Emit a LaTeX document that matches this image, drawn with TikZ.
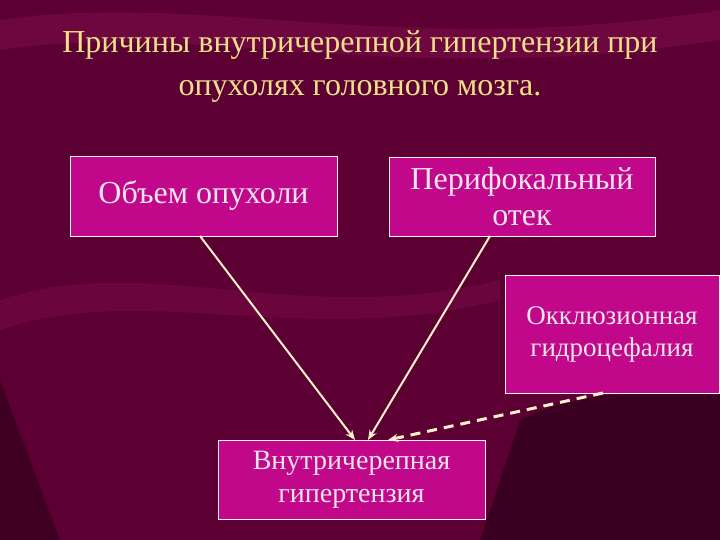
\documentclass[tikz,border=0pt]{standalone}
\usepackage{fontspec}
\setmainfont{Liberation Serif}
\usetikzlibrary{arrows.meta}
\begin{document}
\begin{tikzpicture}[x=1pt,y=-1pt,
  box/.style={draw=white!85!pink,line width=0.8pt,fill=boxc,inner sep=0pt,align=center,text=txt},
  arr/.style={draw=arrc,line width=2pt,-{Stealth[length=10pt,width=8pt]}}]
\definecolor{bg}{HTML}{5C0034}
\definecolor{bgl}{HTML}{7A0A48}
\definecolor{boxc}{HTML}{C2088A}
\definecolor{txt}{HTML}{F4E4F0}
\definecolor{arrc}{HTML}{FFF0C8}
\definecolor{ttl}{HTML}{F2E08A}
\useasboundingbox (0,0) rectangle (720,540);
\fill[bg] (0,0) rectangle (720,540);
\fill[bgl,opacity=0.6] (0,20) .. controls (200,-10) and (400,60) .. (720,10) -- (720,40) .. controls (400,90) and (200,20) .. (0,50) -- cycle;
\fill[bgl,opacity=0.5] (0,300) .. controls (150,250) and (300,330) .. (500,280) -- (500,300) .. controls (300,350) and (150,280) .. (0,330) -- cycle;
\fill[black,opacity=0.35] (520,420) .. controls (600,380) and (680,400) .. (720,380) -- (720,540) -- (480,540) -- cycle;
\fill[black,opacity=0.3] (0,380) -- (60,540) -- (0,540) -- cycle;
\node[text=ttl,font=\fontsize{32}{43}\selectfont,align=center] (t) at (360,67) {Причины внутричерепной гипертензии при\\опухолях головного мозга.};
\node[box,minimum width=267pt,minimum height=80pt,font=\fontsize{32}{36}\selectfont] (a) at (203.5,196) {Объем опухоли};
\node[box,minimum width=266pt,minimum height=79pt,font=\fontsize{32}{36}\selectfont] (b) at (522,196.5) {Перифокальный\\отек};
\node[box,minimum width=214pt,minimum height=118pt,font=\fontsize{27}{32}\selectfont] (c) at (612,334) {Окклюзионная\\гидроцефалия};
\node[box,minimum width=267pt,minimum height=79pt,font=\fontsize{28}{33}\selectfont] (d) at (351.5,479.5) {Внутричерепная\\гипертензия};
\coordinate (a1) at (200,236); \coordinate (d1) at (355,440);
\coordinate (b1) at (490,236); \coordinate (d2) at (368,440);
\coordinate (c1) at (603,393); \coordinate (d3) at (388,440);
\draw[arr] (a1) -- (d1);
\draw[arr] (b1) -- (d2);
\draw[arr,dash pattern=on 10pt off 7pt,line width=3pt] (c1) -- (d3);
\end{tikzpicture}
\end{document}
